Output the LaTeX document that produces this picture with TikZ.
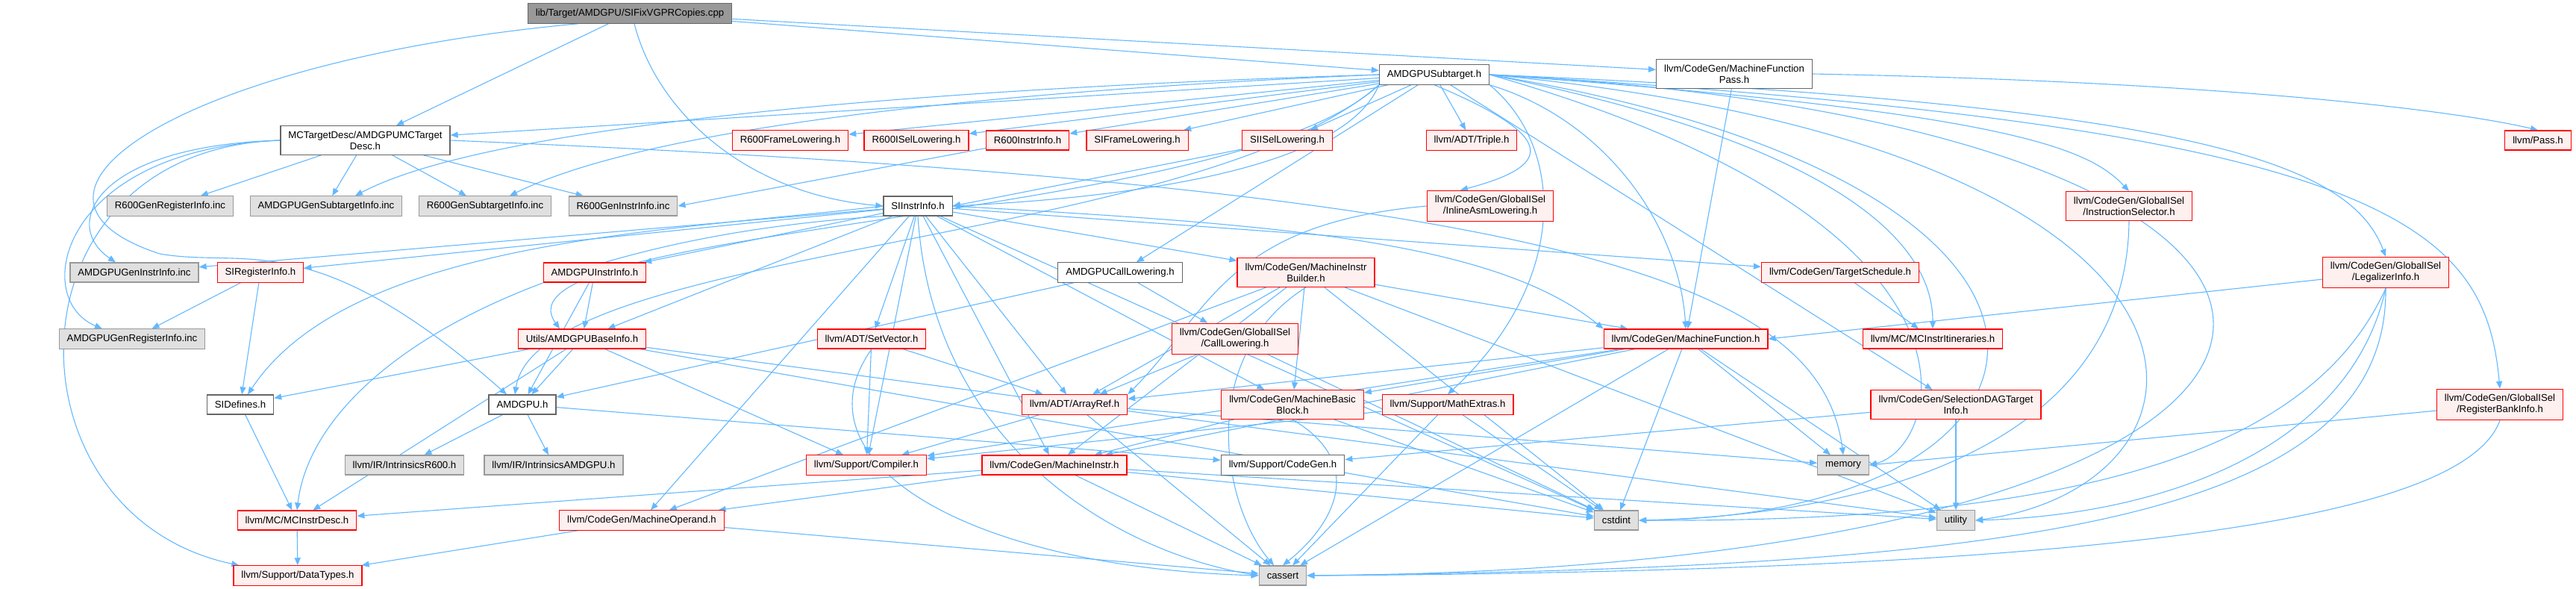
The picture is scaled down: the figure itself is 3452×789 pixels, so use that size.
\documentclass[tikz,border=0pt]{standalone}
\usepackage{fontspec}
\setmainfont{Liberation Sans}
\usetikzlibrary{arrows.meta, backgrounds}
\definecolor{edgeblue}{HTML}{63B8FF}
\definecolor{redfill}{HTML}{FFF0F0}
\definecolor{extfill}{HTML}{E0E0E0}
\definecolor{mainfill}{HTML}{999999}

\begin{document}
\begin{tikzpicture}[
    x=1pt, y=-1pt,
    hdr/.style={draw=black!60, fill=white, line width=1.2pt, align=center,
                font=\fontsize{13.2}{15}\selectfont, inner xsep=10.5pt,
                inner ysep=7pt, minimum height=26pt},
    mainhdr/.style={hdr, fill=mainfill},
    redhdr/.style={hdr, draw=red, fill=redfill},
    exthdr/.style={hdr, draw=black!40, fill=extfill},
    flow/.style={-{Triangle[length=10pt,width=8pt]}, edgeblue, line width=1.1pt},
]
\useasboundingbox (0,0) rectangle (3452,789);

\node[mainhdr] (main) at (844,18) {lib/Target/AMDGPU/SIFixVGPRCopies.cpp};
\node[hdr] (subt) at (1922,100) {AMDGPUSubtarget.h};
\node[hdr] (mfp) at (2324,99) {llvm/CodeGen/MachineFunction\\Pass.h};
\node[hdr] (mctd) at (489.5,188) {MCTargetDesc/AMDGPUMCTarget\\Desc.h};
\node[redhdr] (r6frame) at (1059,188) {R600FrameLowering.h};
\node[redhdr] (r6isel) at (1228,188) {R600ISelLowering.h};
\node[redhdr] (r6ii) at (1377,188) {R600InstrInfo.h};
\node[redhdr] (siframe) at (1524,188) {SIFrameLowering.h};
\node[redhdr] (siisel) at (1725,188) {SIISelLowering.h};
\node[redhdr] (triple) at (1972,188) {llvm/ADT/Triple.h};
\node[redhdr] (pass) at (3401,188) {llvm/Pass.h};
\node[exthdr] (r6reg) at (228,276) {R600GenRegisterInfo.inc};
\node[exthdr] (amdsub) at (437,276) {AMDGPUGenSubtargetInfo.inc};
\node[exthdr] (r6sub) at (650,276) {R600GenSubtargetInfo.inc};
\node[exthdr] (r6ins) at (835,276) {R600GenInstrInfo.inc};
\node[hdr] (siii) at (1230,276) {SIInstrInfo.h};
\node[redhdr] (inlasm) at (1997,276) {llvm/CodeGen/GlobalISel\\/InlineAsmLowering.h};
\node[redhdr] (instsel) at (2853,276) {llvm/CodeGen/GlobalISel\\/InstructionSelector.h};
\node[exthdr] (amdins) at (180,365) {AMDGPUGenInstrInfo.inc};
\node[redhdr] (sireg) at (349,365) {SIRegisterInfo.h};
\node[redhdr] (amdii) at (797,365) {AMDGPUInstrInfo.h};
\node[hdr] (calllow) at (1501,365) {AMDGPUCallLowering.h};
\node[redhdr] (mib) at (1750,365) {llvm/CodeGen/MachineInstr\\Builder.h};
\node[redhdr] (tsched) at (2466,365) {llvm/CodeGen/TargetSchedule.h};
\node[redhdr] (legal) at (3197,365) {llvm/CodeGen/GlobalISel\\/LegalizerInfo.h};
\node[exthdr] (amdreg) at (177,454) {AMDGPUGenRegisterInfo.inc};
\node[redhdr] (baseinfo) at (780,454) {Utils/AMDGPUBaseInfo.h};
\node[redhdr] (setvec) at (1168,454) {llvm/ADT/SetVector.h};
\node[redhdr] (cl) at (1655,454) {llvm/CodeGen/GlobalISel\\/CallLowering.h};
\node[redhdr] (mf) at (2259,454) {llvm/CodeGen/MachineFunction.h};
\node[redhdr] (itin) at (2590,454) {llvm/MC/MCInstrItineraries.h};
\node[hdr] (sidef) at (322,542) {SIDefines.h};
\node[hdr] (amdgpu) at (700,542) {AMDGPU.h};
\node[redhdr] (aref) at (1440,542) {llvm/ADT/ArrayRef.h};
\node[redhdr] (mbb) at (1732,542) {llvm/CodeGen/MachineBasic\\Block.h};
\node[redhdr] (mathx) at (1940,542) {llvm/Support/MathExtras.h};
\node[redhdr] (sdag) at (2621,542) {llvm/CodeGen/SelectionDAGTarget\\Info.h};
\node[redhdr] (rbi) at (3350,542) {llvm/CodeGen/GlobalISel\\/RegisterBankInfo.h};
\node[exthdr] (intr600) at (542,623) {llvm/IR/IntrinsicsR600.h};
\node[exthdr] (intamd) at (742,623) {llvm/IR/IntrinsicsAMDGPU.h};
\node[redhdr] (compiler) at (1161,623) {llvm/Support/Compiler.h};
\node[redhdr] (mi) at (1413,623) {llvm/CodeGen/MachineInstr.h};
\node[hdr] (cgen) at (1719,623) {llvm/Support/CodeGen.h};
\node[exthdr] (memory) at (2470,623) {memory};
\node[redhdr] (mcid) at (398,697) {llvm/MC/MCInstrDesc.h};
\node[redhdr] (mop) at (860,697) {llvm/CodeGen/MachineOperand.h};
\node[exthdr] (cstdint) at (2166,697) {cstdint};
\node[exthdr] (utility) at (2621,697) {utility};
\node[redhdr] (dtypes) at (399,771) {llvm/Support/DataTypes.h};
\node[exthdr] (cassert) at (1719,771) {cassert};

\begin{scope}[on background layer]
\path (main) edge[flow] (mctd) edge[flow] (subt) edge[flow] (mfp);
\draw[flow] ([xshift=-69pt]main.south) .. controls (250,80) and (-30,260) .. (214,340)
    .. controls (330,360) and (420,300) .. ([xshift=-21pt]amdgpu.north);
\draw[flow] ([xshift=6pt]main.south) .. controls (880,150) and (1000,260) .. (siii.west);

\path (subt) edge[flow] (mctd) edge[flow] (r6frame) edge[flow] (r6isel)
    edge[flow] (r6ii) edge[flow] (siframe) edge[flow] (siisel) edge[flow] (triple)
    edge[flow] (calllow) edge[flow] (sdag);
\draw[flow] (subt.west) .. controls (1200,120) and (650,170) .. ([xshift=39pt]amdsub.north);
\draw[flow] (subt.west) .. controls (1250,125) and (850,180) .. ([xshift=33pt]r6sub.north);
\draw[flow] (subt.south west) .. controls (1800,230) and (1500,265) .. (siii.east);
\draw[flow] (subt.south west) .. controls (1650,300) and (650,300) .. ([xshift=-30pt]baseinfo.north);
\draw[flow] (subt.south west) .. controls (1600,330) and (720,330) .. ([xshift=-10pt]amdgpu.north);
\draw[flow] (subt.south) .. controls (2080,180) and (2090,220) .. ([xshift=-40pt]inlasm.north);
\draw[flow] (subt.south east) .. controls (2100,200) and (2100,380) .. (mathx.north);
\draw[flow] (subt.south east) .. controls (2150,160) and (2250,300) .. (mf.north);
\draw[flow] (subt.east) .. controls (2400,180) and (2590,300) .. (itin.north);
\draw[flow] (subt.east) .. controls (2700,150) and (2800,200) .. (instsel.north);
\draw[flow] (subt.east) .. controls (2950,140) and (3150,220) .. (legal.north);
\draw[flow] (subt.east) .. controls (3200,170) and (3330,300) .. (rbi.north);
\draw[flow] (subt.east) .. controls (2700,300) and (2600,600) .. (memory.east);
\draw[flow] (subt.east) .. controls (2900,250) and (2800,690) .. (cstdint.east);
\draw[flow] (subt.east) .. controls (3050,200) and (3000,650) .. (utility.east);
\draw[flow] (subt.east) .. controls (3350,170) and (3300,760) .. (cassert.east);

\draw[flow] (mfp) -- (mf);
\draw[flow] (mfp.east) .. controls (3000,110) and (3300,150) .. (pass.north);

\path (mctd) edge[flow] (r6reg) edge[flow] (amdsub) edge[flow] (r6sub) edge[flow] (r6ins);
\draw[flow] (mctd.west) .. controls (130,195) and (80,300) .. ([xshift=-25pt]amdins.north);
\draw[flow] (mctd.west) .. controls (80,200) and (40,400) .. ([xshift=-40pt]amdreg.north);
\draw[flow] (mctd.west) .. controls (0,200) and (0,690) .. ([xshift=8pt]dtypes.north west);
\draw[flow] (mctd.east) .. controls (2100,250) and (2440,380) .. (memory.north);

\draw[flow] (r6ii) -- (r6ins.east);
\draw[flow] (siisel) -- (siii.east);

\path (siii) edge[flow] (amdins) edge[flow] (sireg) edge[flow] (amdii)
    edge[flow] (baseinfo) edge[flow] (setvec) edge[flow] (aref)
    edge[flow] (compiler) edge[flow] (mi) edge[flow] (mop) edge[flow] (mbb)
    edge[flow] (mib) edge[flow] (tsched) edge[flow] (cstdint);
\draw[flow] (siii.west) .. controls (900,310) and (470,320) .. ([xshift=10pt]sidef.north);
\draw[flow] (siii.south west) .. controls (700,320) and (420,500) .. (mcid.north);
\draw[flow] (siii.east) .. controls (1700,300) and (2000,320) .. (mf.north west);
\draw[flow] (siii.south) .. controls (1250,600) and (1500,740) .. (cassert.west);

\path (sireg) edge[flow] (amdreg) edge[flow] (sidef);
\path (amdii) edge[flow] (amdgpu) edge[flow] (baseinfo);
\path (calllow) edge[flow] (amdgpu) edge[flow] (cl);
\path (mib) edge[flow] (aref) edge[flow] (mbb) edge[flow] (mf) edge[flow] (mi)
    edge[flow] (mop) edge[flow] (cstdint) edge[flow] (utility);
\draw[flow] (mib.south) .. controls (1600,480) and (1640,680) .. (cassert);
\draw[flow] (inlasm.west) .. controls (1640,300) and (1620,420) .. (aref.north east);
\draw[flow] (tsched) -- (itin);
\draw[flow] (legal) -- (mf.east);
\draw[flow] (legal.south) .. controls (3100,600) and (2800,700) .. (cstdint.east);
\draw[flow] (legal.south) .. controls (3150,600) and (2900,690) .. (utility.east);
\draw[flow] (legal.south) .. controls (3200,700) and (2700,760) .. (cassert.east);
\draw[flow] (instsel.south) .. controls (2850,600) and (2500,690) .. (cstdint.east);
\draw[flow] (rbi) -- (memory.east);
\draw[flow] (rbi.south) .. controls (3300,700) and (2800,765) .. (cassert.east);

\path (baseinfo) edge[flow] (sidef) edge[flow] (amdgpu) edge[flow] (mcid)
    edge[flow] (compiler) edge[flow] (cstdint) edge[flow] (utility);
\path (cl) edge[flow] (aref) edge[flow] (cstdint);
\path (mf) edge[flow] (mbb) edge[flow] (aref) edge[flow] (mi) edge[flow] (compiler)
    edge[flow] (cassert) edge[flow] (cstdint) edge[flow] (memory) edge[flow] (utility);
\path (sidef) edge[flow] (mcid);
\path (amdgpu) edge[flow] (intr600) edge[flow] (intamd) edge[flow] (cgen);
\path (aref) edge[flow] (compiler) edge[flow] (cassert) edge[flow] (memory);
\path (setvec) edge[flow] (aref) edge[flow] (compiler);
\draw[flow] (setvec.south) .. controls (1060,620) and (1300,760) .. (cassert.west);
\path (mbb) edge[flow] (mi) edge[flow] (cstdint);
\draw[flow] (mbb.south) .. controls (1830,620) and (1790,700) .. (cassert.north);
\path (mathx) edge[flow] (compiler) edge[flow] (cassert) edge[flow] (cstdint);
\path (sdag) edge[flow] (cgen) edge[flow] (utility);
\path (mi) edge[flow] (mop) edge[flow] (mcid) edge[flow] (cassert)
    edge[flow] (cstdint) edge[flow] (utility);
\path (mcid) edge[flow] (dtypes);
\path (mop) edge[flow] (dtypes) edge[flow] (cassert);
\end{scope}
\end{tikzpicture}
\end{document}
